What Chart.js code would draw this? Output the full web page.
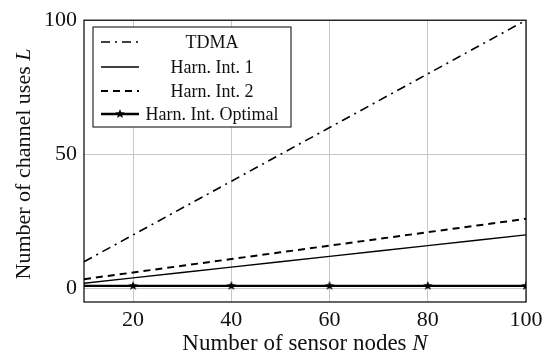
<!DOCTYPE html>
<html>
<head>
<meta charset="utf-8">
<script src="https://cdn.jsdelivr.net/npm/chart.js@4/dist/chart.umd.min.js"></script>
<style>
  html, body { margin: 0; padding: 0; background: #fff; }
  #wrap { width: 545px; height: 358px; }
</style>
</head>
<body>
<div id="wrap"><canvas id="chart" width="545" height="358"></canvas></div>
<script>
// data
const nodes = [10, 20, 30, 40, 50, 60, 70, 80, 90, 100];
const tdma = [10, 20, 30, 40, 50, 60, 70, 80, 90, 100];
const harn1 = [2, 4, 6, 8, 10, 12, 14, 16, 18, 20];
const harn2 = [3.5, 6, 8.5, 11, 13.5, 16, 18.5, 21, 23.5, 26];
const optNodes = [10, 20, 40, 60, 80, 100];
const optimal = [1, 1, 1, 1, 1, 1];
const xTicks = [20, 40, 60, 80, 100];
const yTicks = [0, 50, 100];
const labels = ['TDMA', 'Harn. Int. 1', 'Harn. Int. 2', 'Harn. Int. Optimal'];

const serif = '"Liberation Serif", "DejaVu Serif", serif';

// filled star marker
function makeStar(r) {
  let c = document.createElement('canvas');
  c.width = c.height = r * 2 + 2;
  let g = c.getContext('2d');
  g.fillStyle = '#000';
  g.beginPath();
  for (let i = 0; i < 10; i++) {
    let rad = i % 2 == 0 ? r : r * 0.42;
    let a = -Math.PI / 2 + i * Math.PI / 5;
    let px = r + 1 + rad * Math.cos(a), py = r + 1 + rad * Math.sin(a);
    if (i == 0) g.moveTo(px, py); else g.lineTo(px, py);
  }
  g.closePath();
  g.fill();
  return c;
}
const star = makeStar(5);

const pts = (xs, ys) => xs.map((x, i) => ({ x: x, y: ys[i] }));

// title with an italic symbol at the end
function mixedText(ctx, plain, sym, size, cx, y) {
  ctx.font = size + 'px ' + serif;
  let w1 = ctx.measureText(plain).width;
  ctx.font = 'italic ' + size + 'px ' + serif;
  let w2 = ctx.measureText(sym).width;
  let sx = cx - (w1 + w2) / 2;
  ctx.textAlign = 'left';
  ctx.font = size + 'px ' + serif;
  ctx.fillText(plain, sx, y);
  ctx.font = 'italic ' + size + 'px ' + serif;
  ctx.fillText(sym, sx + w1, y);
}

// frame, axis titles and legend
const extras = {
  id: 'extras',
  afterDatasetsDraw(chart) {
    const ctx = chart.ctx, a = chart.chartArea;
    ctx.save();
    ctx.strokeStyle = '#000';
    ctx.lineWidth = 1.2;
    ctx.strokeRect(a.left, a.top, a.right - a.left, a.bottom - a.top);

    ctx.fillStyle = '#111';
    ctx.textBaseline = 'alphabetic';
    mixedText(ctx, 'Number of sensor nodes ', 'N', 23, 305, 350);

    ctx.save();
    ctx.translate(30, 164);
    ctx.rotate(-Math.PI / 2);
    mixedText(ctx, 'Number of channel uses ', 'L', 22, 0, 0);
    ctx.restore();

    // legend box
    const bx = 93, by = 27, bw = 198, bh = 100;
    ctx.fillStyle = '#fff';
    ctx.fillRect(bx, by, bw, bh);
    ctx.strokeStyle = '#000';
    ctx.lineWidth = 1;
    ctx.strokeRect(bx, by, bw, bh);
    const rows = [42, 67, 91, 114];
    ctx.font = '18px ' + serif;
    ctx.textAlign = 'center';
    ctx.textBaseline = 'middle';
    chart.data.datasets.forEach((ds, i) => {
      let y = rows[i];
      ctx.beginPath();
      ctx.setLineDash(ds.borderDash || []);
      ctx.lineWidth = ds.borderWidth;
      ctx.strokeStyle = '#000';
      ctx.moveTo(101, y);
      ctx.lineTo(139, y);
      ctx.stroke();
      ctx.setLineDash([]);
      if (i == 3) ctx.drawImage(star, 120 - star.width / 2, y - star.height / 2);
      ctx.fillStyle = '#111';
      ctx.fillText(ds.label, 212, y + 1);
    });
    ctx.restore();
  }
};

new Chart(document.getElementById('chart'), {
  type: 'line',
  data: {
    datasets: [
      { label: labels[0], data: pts(nodes, tdma), borderColor: '#000', borderWidth: 1.6, borderDash: [9, 5, 2, 5], pointRadius: 0 },
      { label: labels[1], data: pts(nodes, harn1), borderColor: '#000', borderWidth: 1.4, pointRadius: 0 },
      { label: labels[2], data: pts(nodes, harn2), borderColor: '#000', borderWidth: 2, borderDash: [7, 5], pointRadius: 0 },
      { label: labels[3], data: pts(optNodes, optimal), borderColor: '#000', borderWidth: 2.4,
        pointStyle: star, pointRadius: [0, 5, 5, 5, 5, 5] }
    ]
  },
  options: {
    responsive: false,
    animation: false,
    events: [],
    layout: { padding: { left: 0, right: 19, top: 18, bottom: 0 } },
    plugins: { legend: { display: false }, tooltip: { enabled: false } },
    scales: {
      x: {
        type: 'linear', min: 10, max: 100,
        afterFit: s => { s.height = 56; s.paddingRight = 0; s.paddingLeft = 0; },
        afterBuildTicks: s => { s.ticks = xTicks.map(v => ({ value: v })); },
        grid: { color: '#c8c8c8', lineWidth: 1, drawTicks: false },
        border: { display: false },
        ticks: { color: '#111', padding: 5, font: { family: serif, size: 22 } }
      },
      y: {
        min: -5, max: 100,
        afterFit: s => { s.width = 84; },
        afterBuildTicks: s => { s.ticks = yTicks.map(v => ({ value: v })); },
        grid: { color: '#c8c8c8', lineWidth: 1, drawTicks: false },
        border: { display: false },
        ticks: { color: '#111', padding: 7, font: { family: serif, size: 22 } }
      }
    }
  },
  plugins: [extras]
});
</script>
</body>
</html>
